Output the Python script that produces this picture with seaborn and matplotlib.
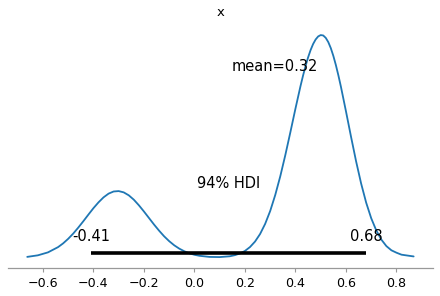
import matplotlib
matplotlib.use("Agg")
import matplotlib.pyplot as plt
import seaborn as sns

# posterior density of x
grid = [-0.662, -0.62, -0.58, -0.54, -0.52, -0.50, -0.48, -0.46, -0.44, -0.42,
        -0.40, -0.38, -0.36, -0.34, -0.32, -0.30, -0.28, -0.26, -0.24, -0.22,
        -0.20, -0.18, -0.16, -0.14, -0.12, -0.10, -0.08, -0.06, -0.04, -0.02,
        0.00, 0.02, 0.06, 0.10, 0.14, 0.16, 0.18, 0.20, 0.22, 0.24,
        0.26, 0.28, 0.30, 0.32, 0.34, 0.36, 0.38, 0.40, 0.42, 0.43,
        0.44, 0.45, 0.46, 0.47, 0.48, 0.49, 0.50, 0.51, 0.52, 0.53,
        0.54, 0.55, 0.56, 0.57, 0.58, 0.60, 0.62, 0.64, 0.66, 0.68,
        0.70, 0.72, 0.74, 0.76, 0.78, 0.80, 0.82, 0.868]
density = [0.0125, 0.032, 0.069, 0.135, 0.182, 0.239, 0.305, 0.380, 0.460, 0.543,
           0.624, 0.697, 0.760, 0.807, 0.834, 0.839, 0.823, 0.786, 0.731, 0.661,
           0.583, 0.501, 0.419, 0.342, 0.271, 0.210, 0.158, 0.116, 0.083, 0.057,
           0.039, 0.026, 0.012, 0.010, 0.020, 0.034, 0.055, 0.087, 0.136, 0.205,
           0.300, 0.427, 0.589, 0.790, 1.026, 1.293, 1.580, 1.875, 2.158, 2.289,
           2.410, 2.518, 2.611, 2.687, 2.744, 2.782, 2.799, 2.794, 2.764, 2.711,
           2.635, 2.538, 2.423, 2.293, 2.151, 1.842, 1.523, 1.215, 0.935, 0.694,
           0.498, 0.345, 0.230, 0.148, 0.095, 0.065, 0.040, 0.018]
hdi = [-0.41, 0.68]
mean_val = 0.32
hdi_prob = 0.94
var_name = "x"

sns.set_style("white", {"text.color": "black", "axes.labelcolor": "black"})
fig, ax = plt.subplots(figsize=(4.4, 2.96), dpi=100)
fig.subplots_adjust(left=0.018, right=0.984, bottom=0.094, top=0.919)

sns.lineplot(x=grid, y=density, ax=ax, color="C0", lw=1.3, sort=False)
top = ax.get_ylim()[1]

sns.lineplot(x=hdi, y=[top * 0.02] * 2, ax=ax, color="k", lw=2.6,
             solid_capstyle="butt")
for v in hdi:
    ax.text(v, top * 0.07, f"{v:.2f}", ha="center", fontsize=10.5, color="black")
ax.text(sum(hdi) / 2, top * 0.3, f"{hdi_prob:.0%} HDI", ha="center",
        fontsize=10.5, color="black")
ax.text(mean_val, top * 0.8, f"mean={mean_val:.2f}", ha="center",
        fontsize=10.5, color="black")

ax.set_title(var_name, fontsize=9.5, color="black")
ax.set_yticks([])
ax.set_ylabel("")
for s in ["left", "right", "top"]:
    ax.spines[s].set_visible(False)
ax.spines["bottom"].set_color("0.6")
ax.spines["bottom"].set_linewidth(0.9)
ax.tick_params(axis="x", labelsize=9.1, length=3, color="0.6",
               labelcolor="black", bottom=True, pad=3)

fig.savefig("out.png", dpi=100)
